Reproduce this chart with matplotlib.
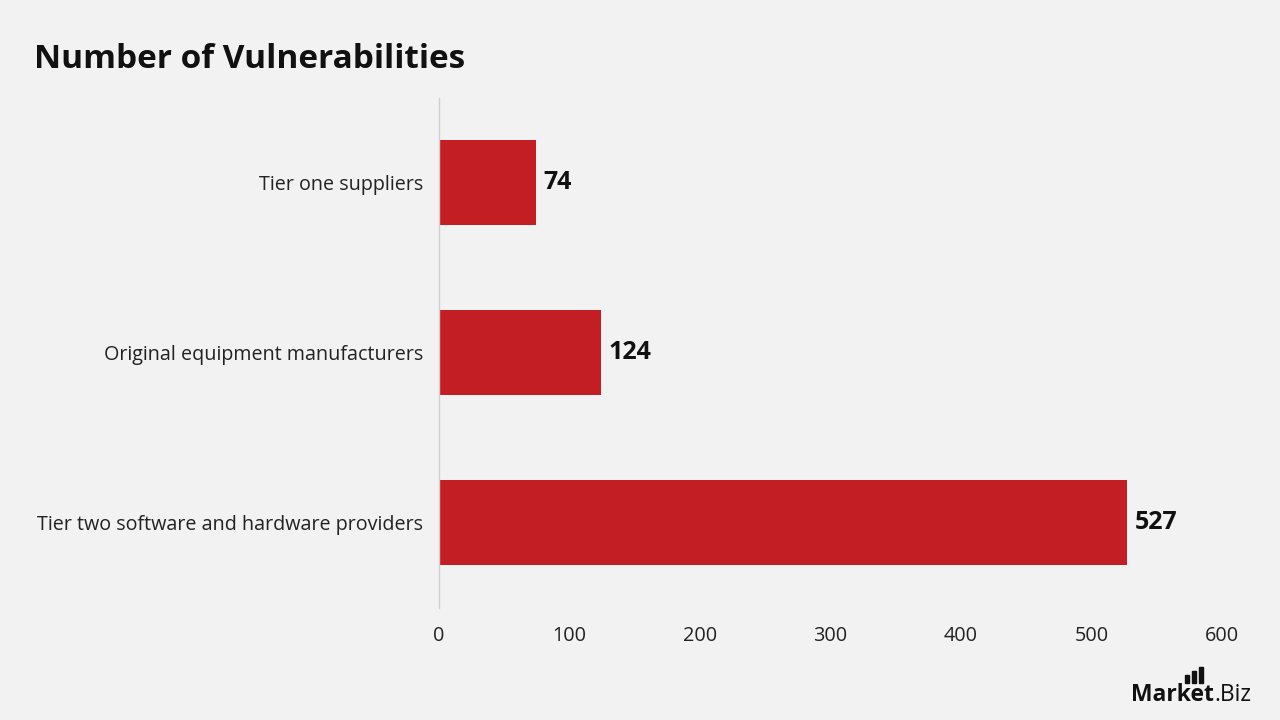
import matplotlib.pyplot as plt
from matplotlib.patches import Rectangle

categories = ["Tier one suppliers", "Original equipment manufacturers",
              "Tier two software and hardware providers"]
values = [74, 124, 527]
x_ticks = [0, 100, 200, 300, 400, 500, 600]

bg = "#f2f2f2"
red = "#c41e25"
plt.rcParams['font.family'] = ['Open Sans', 'DejaVu Sans']

fig = plt.figure(figsize=(12.8, 7.2), dpi=100, facecolor=bg)
ax = fig.add_axes([0.343, 0.1556, 0.6117, 0.7083])
ax.set_facecolor(bg)

ypos = list(range(len(categories)))
ax.barh(ypos, values, height=0.5, color=red)
ax.set_ylim(len(categories) - 0.5, -0.5)
ax.set_xlim(0, 600)
ax.set_yticks(ypos)
ax.set_yticklabels(categories, fontsize=14.2, color="#222222")
ax.set_xticks(x_ticks)
ax.set_xticklabels([str(t) for t in x_ticks], fontsize=14.3, color="#222222")
ax.tick_params(axis='y', length=0, pad=11.5)
ax.tick_params(axis='x', length=0, pad=13)
for s in ["top", "right", "bottom"]:
    ax.spines[s].set_visible(False)
ax.spines["left"].set_color("#d0d0d0")
ax.spines["left"].set_linewidth(1)

for y, v in zip(ypos, values):
    ax.text(v + 6, y, str(v), va="center", ha="left", fontsize=18,
            fontweight="bold", color="#111111")

fig.text(0.0266, 0.918, "Number of Vulnerabilities", fontsize=24,
         fontweight="bold", color="#111111", va="center")

# logo
t1 = fig.text(0.8836, 0.026, "Market", fontsize=16.5, fontweight="bold",
              color="#111111", va="baseline")
fig.canvas.draw()
bb = t1.get_window_extent(fig.canvas.get_renderer())
x_end = bb.x1 / fig.bbox.width
fig.text(x_end, 0.026, ".Biz", fontsize=16.5, color="#111111", va="baseline")
for i, h in enumerate([0.010, 0.016, 0.021]):
    fig.patches.append(Rectangle((0.926 + i * 0.0055, 0.052), 0.0026, h,
                                 transform=fig.transFigure, color="#111111"))

fig.savefig("out.png", dpi=100, facecolor=bg)
